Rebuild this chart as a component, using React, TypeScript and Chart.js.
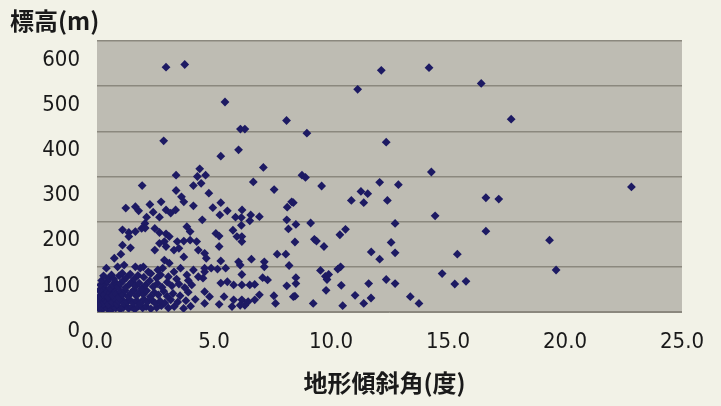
import React, { useEffect, useRef } from 'react';
import { Chart, registerables } from 'chart.js';

Chart.register(...registerables);

// Axis definitions
const xTickValues = [0, 5, 10, 15, 20, 25];
const yTickValues = [0, 100, 200, 300, 400, 500, 600];
const xAxisTitle = '地形傾斜角(度)';
const yAxisTitle = '標高(m)';

// [slope angle (deg), elevation (m)] — upper scattered points
const upperPoints: [number, number][] = [
  [2.95, 542], [3.75, 548], [5.47, 465], [8.1, 424], [6.13, 405], [6.32, 405], [8.97, 396], [2.85, 379],
  [6.05, 359], [5.29, 345], [4.39, 317], [7.11, 320], [3.38, 303], [4.29, 300], [4.64, 303], [8.76, 303],
  [8.91, 298], [1.93, 280], [4.12, 280], [4.45, 285], [6.68, 288], [3.38, 269], [3.61, 255], [4.78, 263],
  [7.57, 271], [12.15, 535], [14.19, 541], [11.14, 493], [16.42, 506], [17.7, 427], [12.36, 376], [14.29, 310],
  [9.6, 279], [12.08, 287], [12.88, 282], [11.28, 267], [11.57, 262], [22.84, 277], [16.62, 253], [17.17, 250],
];

// middle band points (about 100 - 250 m)
const middlePoints: [number, number][] = [
  [10.87, 247], [11.4, 242], [12.41, 247], [8.39, 242], [14.45, 213], [8.5, 194], [9.13, 197], [12.74, 196],
  [16.62, 179], [10.62, 183], [10.38, 171], [9.29, 161], [9.38, 157], [8.46, 155], [9.7, 145], [12.57, 154],
  [19.34, 159], [11.72, 133], [12.74, 131], [12.08, 117], [15.4, 128], [10.41, 100],
  [5.29, 242], [4.95, 231], [5.57, 224], [5.25, 215], [6.2, 226], [5.92, 210], [6.17, 209], [6.57, 215],
  [6.53, 202], [6.94, 211], [6.17, 192], [8.13, 232], [8.32, 244], [4.5, 204], [8.11, 204], [8.18, 184],
  [5.08, 174], [5.22, 168], [5.81, 181], [5.98, 167], [6.19, 167], [6.19, 156], [5.22, 145], [4.6, 130],
  [4.67, 119], [6.6, 117], [6.05, 111], [6.12, 104], [7.15, 111], [7.15, 100], [7.7, 128], [8.07, 128],
  [8.21, 103], [5.29, 113],
  [3.71, 244], [1.23, 230], [1.64, 233], [1.78, 224], [2.26, 238], [2.74, 244], [2.4, 221], [2.95, 226],
  [3.15, 219], [3.36, 226], [4.12, 235], [2.12, 210], [2.67, 210], [2.05, 196], [1.09, 182], [1.36, 176],
  [1.64, 178], [1.91, 185], [2.06, 186], [2.47, 185], [2.67, 176], [2.95, 173], [3.09, 167], [3.84, 189],
  [3.98, 178], [1.36, 167], [1.09, 148], [1.43, 142], [0.74, 119], [1.02, 128], [2.47, 137], [2.67, 152],
  [2.88, 156], [2.95, 145], [3.43, 156], [3.71, 157], [3.29, 137], [3.5, 141], [3.98, 159], [4.26, 156],
  [4.33, 137], [3.71, 122], [2.88, 115], [3.09, 108], [0.88, 100], [1.16, 104], [1.64, 100], [1.98, 100],
];

// lower scattered points (below 100 m)
const lowerPoints: [number, number][] = [
  [10.29, 95], [9.55, 92], [9.76, 79], [9.9, 83], [9.83, 72], [8.5, 76], [8.5, 63], [9.79, 48],
  [10.44, 59], [11.61, 63], [12.36, 72], [12.74, 63], [14.75, 85], [19.62, 93], [15.29, 62], [15.77, 68],
  [8.46, 35], [9.24, 19], [10.5, 14], [11.03, 37], [11.4, 19], [11.71, 31], [13.39, 34], [13.76, 19],
  [4.88, 97], [5.15, 95], [5.5, 97], [4.6, 97], [4.53, 75], [6.19, 83], [7.08, 76], [7.29, 71],
  [5.29, 64], [5.57, 67], [5.84, 60], [6.19, 60], [6.53, 60], [6.74, 61], [8.11, 58], [4.6, 45],
  [4.81, 34], [5.43, 34], [5.84, 27], [6.19, 27], [6.46, 23], [6.12, 15], [6.32, 15], [5.77, 12],
  [5.22, 17], [6.94, 38], [7.56, 36], [7.63, 19], [8.39, 34], [4.6, 19], [6.74, 27],
  [0.4, 97], [1.85, 97], [2.19, 89], [2.6, 93], [2.81, 97], [3.29, 89], [3.57, 97], [3.84, 82],
  [4.12, 93], [4.33, 78], [4.6, 89],
];

// dense cluster near the origin
const clusterPoints: [number, number][] = [
  [0.08, 8], [0.15, 12], [0.22, 6], [0.3, 10], [0.38, 14], [0.45, 7], [0.55, 11], [0.62, 5],
  [0.7, 13], [0.8, 9], [0.9, 12], [1.0, 6], [1.12, 10], [1.25, 14], [1.35, 8], [1.5, 11],
  [1.62, 6], [1.78, 13], [1.95, 9], [2.1, 12], [2.3, 7], [2.55, 10], [2.75, 14], [3.05, 9],
  [3.3, 12], [3.7, 8], [4.0, 13],
  [0.1, 20], [0.18, 25], [0.26, 18], [0.34, 28], [0.42, 22], [0.5, 17], [0.58, 26], [0.67, 21],
  [0.76, 29], [0.85, 18], [0.95, 24], [1.05, 28], [1.15, 19], [1.28, 23], [1.4, 27], [1.55, 20],
  [1.7, 25], [1.85, 18], [2.0, 28], [2.15, 22], [2.35, 26], [2.5, 19], [2.7, 24], [2.9, 20],
  [3.15, 27], [3.45, 22], [3.8, 25], [4.2, 28],
  [0.12, 35], [0.2, 42], [0.3, 38], [0.4, 47], [0.48, 33], [0.57, 44], [0.65, 37], [0.74, 49],
  [0.83, 40], [0.92, 33], [1.02, 45], [1.1, 38], [1.2, 48], [1.32, 35], [1.45, 42], [1.58, 49],
  [1.68, 36], [1.82, 44], [1.98, 39], [2.12, 47], [2.28, 34], [2.45, 43], [2.62, 38], [2.85, 46],
  [3.0, 35], [3.25, 41], [3.55, 36], [3.9, 44],
  [0.25, 55], [0.35, 62], [0.45, 68], [0.55, 53], [0.68, 60], [0.78, 66], [0.9, 56], [1.0, 63],
  [1.13, 70], [1.22, 54], [1.38, 61], [1.5, 67], [1.65, 57], [1.8, 64], [1.92, 52], [2.08, 60],
  [2.25, 69], [2.4, 56], [2.58, 63], [2.78, 55], [3.0, 66], [3.2, 58], [3.5, 62], [3.75, 54],
  [4.05, 60],
  [0.5, 75], [0.62, 82], [0.72, 73], [0.95, 80], [1.08, 86], [1.25, 76], [1.42, 84], [1.6, 74],
  [1.75, 81], [2.0, 77], [2.3, 85], [2.55, 75], [2.72, 82], [3.05, 78], [3.4, 73], [3.9, 70],
  [0.05, 15], [0.05, 30], [0.1, 48], [0.15, 60], [0.2, 70], [0.28, 80],
];

const NUM_FONT = '"Liberation Sans Narrow", "DejaVu Sans Condensed", "Liberation Sans", Arial, sans-serif';
const CJK_FONT = '"Noto Sans CJK JP", "Noto Sans", sans-serif';

const PAGE_BG = '#f2f2e7';
const PLOT_BG = '#bebcb3';
const GRID = '#8b887e';
const MARK = '#1d1a63';

const bgAndTitles = {
  id: 'bgAndTitles',
  beforeDraw(chart: any) {
    const { ctx, chartArea } = chart;
    ctx.save();
    ctx.fillStyle = PAGE_BG;
    ctx.fillRect(0, 0, chart.width, chart.height);
    ctx.fillStyle = PLOT_BG;
    ctx.fillRect(chartArea.left, chartArea.top, chartArea.right - chartArea.left, chartArea.bottom - chartArea.top);
    ctx.restore();
  },
  afterDraw(chart: any) {
    const { ctx, chartArea } = chart;
    ctx.save();
    ctx.fillStyle = '#1a1a1a';
    ctx.font = `bold 24px ${CJK_FONT}`;
    ctx.textBaseline = 'middle';
    ctx.textAlign = 'left';
    ctx.fillText(yAxisTitle, 10, 21);
    ctx.textAlign = 'center';
    ctx.fillText(xAxisTitle, (chartArea.left + chartArea.right) / 2 - 5, 383);
    ctx.restore();
  },
};

export default function App() {
  const canvasRef = useRef<HTMLCanvasElement | null>(null);

  useEffect(() => {
    if (!canvasRef.current) return;
    const all = [...upperPoints, ...middlePoints, ...lowerPoints, ...clusterPoints];
    const chart = new Chart(canvasRef.current, {
      type: 'scatter',
      data: {
        datasets: [
          {
            label: '標高',
            data: all.map(([x, y]) => ({ x, y })),
            pointStyle: 'rectRot',
            pointRadius: 4.4,
            pointBackgroundColor: MARK,
            pointBorderColor: MARK,
            pointBorderWidth: 0,
          },
        ],
      },
      options: {
        animation: false,
        responsive: false,
        maintainAspectRatio: false,
        layout: { padding: { top: 41, right: 19, left: 0, bottom: 0 } },
        plugins: {
          legend: { display: false },
          tooltip: { enabled: false },
          title: { display: false },
        },
        scales: {
          x: {
            type: 'linear',
            min: 0,
            max: 25,
            afterBuildTicks: (scale: any) => {
              scale.ticks = xTickValues.map((v) => ({ value: v }));
            },
            afterFit: (scale: any) => {
              scale.height = 94;
            },
            grid: { display: false, drawTicks: false },
            border: { display: true, color: GRID, width: 1 },
            ticks: {
              padding: 17,
              color: '#1a1a1a',
              font: { family: NUM_FONT, size: 22 },
              maxRotation: 0,
              callback: (v: any) => Number(v).toFixed(1),
            },
          },
          y: {
            type: 'linear',
            min: 0,
            max: 600,
            afterBuildTicks: (scale: any) => {
              scale.ticks = yTickValues.map((v) => ({ value: v }));
            },
            afterFit: (scale: any) => {
              scale.width = 97;
            },
            grid: { color: GRID, lineWidth: 1.5, drawTicks: false },
            border: { display: false },
            ticks: {
              padding: 17,
              labelOffset: 19,
              color: '#1a1a1a',
              font: { family: NUM_FONT, size: 22 },
            },
          },
        },
      },
      plugins: [bgAndTitles],
    });
    return () => chart.destroy();
  }, []);

  return (
    <div style={{ position: 'absolute', left: 0, top: 0, width: 721, height: 406, background: PAGE_BG }}>
      <canvas ref={canvasRef} width={721} height={406} style={{ width: 721, height: 406, display: 'block' }} />
    </div>
  );
}
